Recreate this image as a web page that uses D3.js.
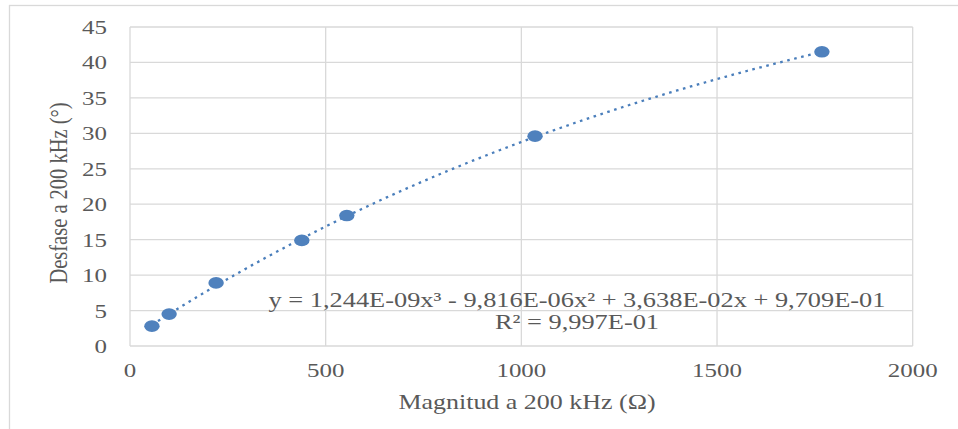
<!DOCTYPE html>
<html>
<head>
<meta charset="utf-8">
<script src="https://cdn.jsdelivr.net/npm/d3@7"></script>
<style>
  body { margin: 0; background: #fff; }
  svg text { font-family: "Liberation Serif", "Times New Roman", serif; fill: #595959; }
</style>
</head>
<body>
<figure id="scatter" style="margin:0"></figure>
<script>
// data
const magnitud = [56, 100, 220, 439, 554, 1035, 1768];
const desfase = [2.8, 4.5, 8.9, 14.9, 18.4, 29.6, 41.5];
const xTicks = [0, 500, 1000, 1500, 2000];
const yTicks = [0, 5, 10, 15, 20, 25, 30, 35, 40, 45];
// polynomial trendline, coefficients as printed on the chart (c0..c3)
const coefs = [9.709E-01, 3.638E-02, -9.816E-06, 1.244E-09];
const eqLines = ["y = 1,244E-09x³ - 9,816E-06x² + 3,638E-02x + 9,709E-01", "R² = 9,997E-01"];

const W = 958, H = 429;
const plotL = 130, plotR = 912.7, plotT = 27, plotB = 346;
const sx = 1.28; // picture is stretched horizontally

const svg = d3.select("figure#scatter").append("svg")
  .attr("width", W).attr("height", H);

// chart border
svg.append("rect")
  .attr("x", 9.5).attr("y", 5.5).attr("width", 960).attr("height", 440)
  .attr("fill", "none").attr("stroke", "#d9d9d9").attr("stroke-width", 1.3);

const x = d3.scaleLinear().domain([0, 2000]).range([plotL, plotR]);
const y = d3.scaleLinear().domain([0, 45]).range([plotB, plotT]);

// grid
const grid = svg.append("g").attr("stroke", "#d9d9d9").attr("stroke-width", 1.3);
grid.selectAll("line.h").data(yTicks).enter().append("line")
  .attr("x1", plotL).attr("x2", plotR)
  .attr("y1", d => y(d)).attr("y2", d => y(d));
grid.selectAll("line.v").data(xTicks).enter().append("line")
  .attr("y1", plotT).attr("y2", plotB)
  .attr("x1", d => x(d)).attr("x2", d => x(d));

// tick labels
svg.append("g").selectAll("text").data(yTicks).enter().append("text")
  .attr("transform", d => "translate(107," + (y(d) + 7) + ") scale(" + sx + ",1)")
  .attr("text-anchor", "end").style("font-size", "19.5px")
  .text(d => d);
svg.append("g").selectAll("text").data(xTicks).enter().append("text")
  .attr("transform", d => "translate(" + x(d) + ",377) scale(" + sx + ",1)")
  .attr("text-anchor", "middle").style("font-size", "19.5px")
  .text(d => d);

// axis titles
svg.append("text")
  .attr("transform", "translate(527,409) scale(" + sx + ",1)")
  .attr("text-anchor", "middle").style("font-size", "20.3px")
  .text("Magnitud a 200 kHz (Ω)");
svg.append("text")
  .attr("transform", "translate(67,193) rotate(-90) scale(1," + sx + ")")
  .attr("text-anchor", "middle").style("font-size", "20.5px")
  .text("Desfase a 200 kHz (°)");

// trendline
const poly = v => coefs.reduce((s, c, i) => s + c * Math.pow(v, i), 0);
const xs = d3.range(d3.min(magnitud), d3.max(magnitud), 5).concat([d3.max(magnitud)]);
svg.append("path")
  .datum(xs)
  .attr("d", d3.line().x(d => x(d)).y(d => y(poly(d))))
  .attr("fill", "none").attr("stroke", "#4a7ebb")
  .attr("stroke-width", 2.3).attr("stroke-dasharray", "2.6,4.6");

// points
svg.append("g").selectAll("ellipse").data(magnitud).enter().append("ellipse")
  .attr("cx", d => x(d))
  .attr("cy", (d, i) => y(desfase[i]))
  .attr("rx", 7.7).attr("ry", 5.8)
  .attr("fill", "#4f81bd");

// equation
svg.append("g").selectAll("text").data(eqLines).enter().append("text")
  .attr("transform", (d, i) => "translate(577," + (307 + i * 22) + ") scale(" + sx + ",1)")
  .attr("text-anchor", "middle").style("font-size", "20.6px")
  .text(d => d);
</script>
</body>
</html>
